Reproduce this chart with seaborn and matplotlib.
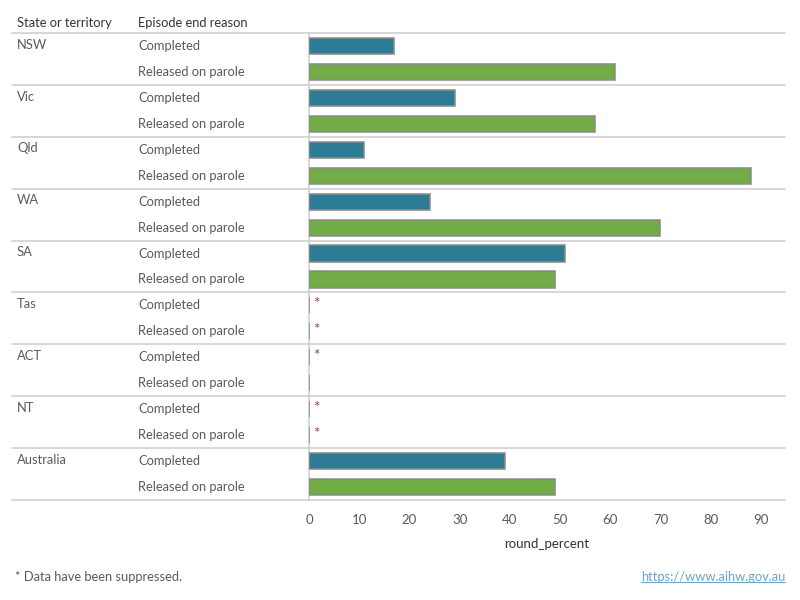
import pandas as pd
import numpy as np
import seaborn as sns
import matplotlib.pyplot as plt
import matplotlib.transforms as mtransforms
from matplotlib.lines import Line2D

# data
states = ['NSW', 'Vic', 'Qld', 'WA', 'SA', 'Tas', 'ACT', 'NT', 'Australia']
reasons = ['Completed', 'Released on parole']
completed = [17, 29, 11, 24, 51, 0, 0, 0, 39]
parole = [61, 57, 88, 70, 49, 0, 0, 0, 49]
suppressed_completed = [False, False, False, False, False, True, True, True, False]
suppressed_parole = [False, False, False, False, False, True, False, True, False]

BLUE = '#2e7b96'
GREEN = '#72ac47'
GRID = '#cfcfcf'
TEXT = '#5a5a5a'

rows = []
for i, s in enumerate(states):
    rows.append({'row': f'{s}|Completed', 'state': s, 'reason': 'Completed',
                 'value': completed[i], 'supp': suppressed_completed[i]})
    rows.append({'row': f'{s}|Released on parole', 'state': s, 'reason': 'Released on parole',
                 'value': parole[i], 'supp': suppressed_parole[i]})
df = pd.DataFrame(rows)

sns.set_theme(style='white')
plt.rcParams['font.family'] = ['Lato', 'DejaVu Sans']

W, H = 800, 600
fig = plt.figure(figsize=(8, 6), dpi=100)
left, right, top, bottom = 309, 785, 33, 500
ax = fig.add_axes([left / W, 1 - bottom / H, (right - left) / W, (bottom - top) / H])

sns.barplot(data=df, x='value', y='row', hue='reason', palette={'Completed': BLUE, 'Released on parole': GREEN},
            dodge=False, orient='h', width=0.62, saturation=1, edgecolor='#8a8a8a', linewidth=1.1,
            legend=False, ax=ax)
for p in ax.patches:
    p.set_zorder(3)

ax.set_xlim(0, 94.8)
ax.set_ylim(len(df) - 0.5, -0.5)
ax.set_yticks([])
ax.set_ylabel('')
ax.set_xticks(range(0, 100, 10))
ax.tick_params(axis='x', colors=GRID, length=4, width=1, labelcolor=TEXT, labelsize=9.5, pad=6)
ax.set_xlabel('round_percent', fontsize=9.5, color='#333333', labelpad=9)
for side in ['top', 'right', 'bottom']:
    ax.spines[side].set_visible(False)
ax.spines['left'].set_color(GRID)
ax.spines['left'].set_linewidth(1.2)
ax.spines['left'].set_zorder(0.5)

# horizontal separators spanning the table columns
trans = mtransforms.blended_transform_factory(fig.transFigure, ax.transData)
for y in np.arange(-0.5, len(df), 2):
    ax.add_line(Line2D([12 / W, right / W], [y, y], transform=trans, color=GRID, lw=1.2, clip_on=False))

# suppressed markers
for i, r in df.iterrows():
    if r['supp']:
        ax.text(0.9, i - 0.05, '*', color='#9c4a3c', fontsize=11, va='center', ha='left')

# table text
FS = 9.3
for i, s in enumerate(states):
    ax.text(17 / W, 2 * i - 0.05, s, transform=trans, fontsize=FS, color=TEXT, va='center', ha='left')
for i, r in df.iterrows():
    ax.text(138 / W, i, r['reason'], transform=trans, fontsize=FS, color=TEXT, va='center', ha='left')

fig.text(17 / W, 1 - 23 / H, 'State or territory', fontsize=FS, color='#333333', va='center')
fig.text(138 / W, 1 - 23 / H, 'Episode end reason', fontsize=FS, color='#333333', va='center')
fig.text(15 / W, 1 - 577 / H, '* Data have been suppressed.', fontsize=FS, color=TEXT, va='center')
url = fig.text(right / W, 1 - 577 / H, 'https://www.aihw.gov.au', fontsize=FS, color='#6aa5c9',
               va='center', ha='right')

# underline the link
fig.canvas.draw()
bb = url.get_window_extent().transformed(fig.transFigure.inverted())
fig.add_artist(Line2D([bb.x0, bb.x1], [bb.y0 + 0.002, bb.y0 + 0.002], transform=fig.transFigure,
                      color='#6aa5c9', lw=0.8))

fig.savefig('out.png', dpi=100)
